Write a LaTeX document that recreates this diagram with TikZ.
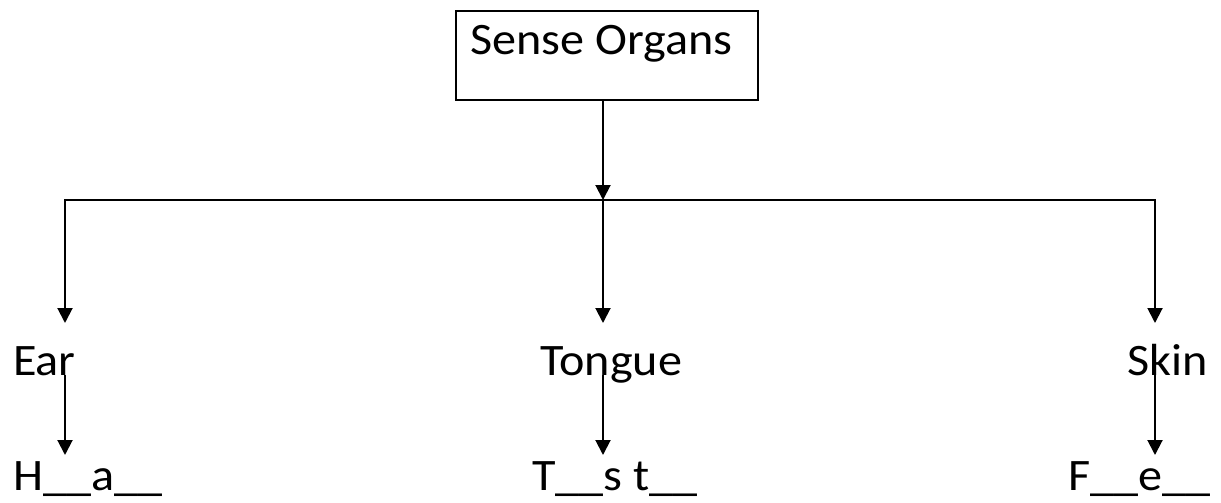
\documentclass[tikz,border=0pt]{standalone}
\usepackage{fontspec}
\setmainfont{Carlito}[FakeStretch=1.07]
\usetikzlibrary{arrows.meta}
\tikzset{
  lbl/.style={anchor=base west, inner sep=0pt, font=\fontsize{45}{54}\selectfont},
  conn/.style={line width=2pt},
  arr/.style={conn, -{Triangle[width=15pt,length=15pt]}},
  box/.style={draw, line width=2pt}
}
\begin{document}
\begin{tikzpicture}[x=1pt,y=-1pt]
\useasboundingbox (0,0) rectangle (1221,503);
\node[box, minimum width=302pt, minimum height=89pt, anchor=north west, inner sep=0pt] (so) at (455,10) {};
\node[lbl] (sot) at (470,55) {Sense Organs};
\node[lbl] (ear) at (13,375) {Ear};
\node[lbl] (ton) at (540,375) {Tongue};
\node[lbl] (skin) at (1127,375) {Skin};
\node[lbl] (h) at (13,490) {H\_\_a\_\_};
\node[lbl] (t) at (532,490) {T\_\_s t\_\_};
\node[lbl] (f) at (1068,490) {F\_\_e\_\_};
\coordinate (j) at (603,200);
\coordinate (l) at (65,200);
\coordinate (r) at (1155,200);
\coordinate (et) at (65,323);
\coordinate (tt) at (603,323);
\coordinate (st) at (1155,323);
\coordinate (eb) at (65,375);
\coordinate (tb) at (603,375);
\coordinate (sb) at (1155,375);
\coordinate (ht) at (65,455);
\coordinate (tt2) at (603,455);
\coordinate (ft) at (1155,455);
\draw[arr] (so.south -| j) -- (j);
\draw[conn, line cap=rect] (l) -- (r);
\draw[arr] (l) -- (et);
\draw[arr] (j) -- (tt);
\draw[arr] (r) -- (st);
\draw[arr] (eb) -- (ht);
\draw[arr] (tb) -- (tt2);
\draw[arr] (sb) -- (ft);
\end{tikzpicture}
\end{document}
